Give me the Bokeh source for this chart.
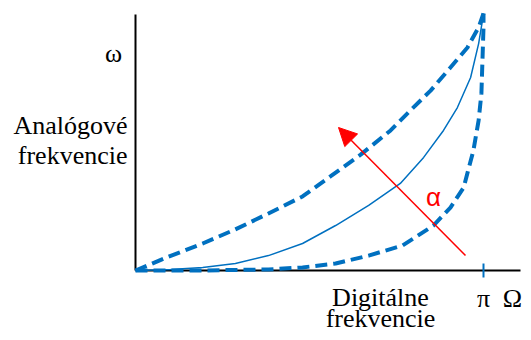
import numpy as np
from bokeh.plotting import figure
from bokeh.models import Range1d, Arrow, NormalHead
from bokeh.core.properties import value
from bokeh.embed import file_html
from bokeh.resources import INLINE

# ---- data (digital frequency as fraction of pi, analog frequency normalised) ----
upper_x = [0, 0.095, 0.193, 0.287, 0.382, 0.480, 0.560, 0.647, 0.733, 0.790, 0.848, 0.905, 0.954, 0.986, 1.0]
upper_y = [0, 0.054, 0.105, 0.160, 0.222, 0.288, 0.366, 0.451, 0.545, 0.623, 0.700, 0.790, 0.868, 0.946, 1.0]

mid_x = [0, 0.101, 0.193, 0.287, 0.382, 0.480, 0.575, 0.670, 0.761, 0.828, 0.885, 0.925, 0.963, 0.986, 0.997, 1.0]
mid_y = [0, 0.004, 0.012, 0.027, 0.058, 0.105, 0.175, 0.253, 0.339, 0.440, 0.545, 0.634, 0.751, 0.883, 0.973, 1.0]

lower_x = [0, 0.187, 0.382, 0.480, 0.575, 0.670, 0.767, 0.856, 0.905, 0.943, 0.971, 0.986, 0.994, 0.997, 1.0, 1.0]
lower_y = [0, 0.0, 0.004, 0.012, 0.027, 0.058, 0.097, 0.175, 0.245, 0.323, 0.467, 0.584, 0.689, 0.817, 0.946, 1.0]

x_tick_label = "π"

# ---- layout helpers (reference pixel -> data) ----
W, H = 523, 332
def sx(px):
    return (px - 135) / 348 * np.pi
def sy(py):
    return (270 - py) / 257

p = figure(width=W, height=H, output_backend="svg", toolbar_location=None,
           x_range=Range1d(sx(0), sx(W)), y_range=Range1d(sy(H), sy(0)),
           x_axis_location=None, y_axis_location=None, min_border=0)
p.grid.visible = False
p.outline_line_color = None
p.background_fill_color = "white"
p.border_fill_color = "white"

blue = "#0070C0"
X = lambda arr: [v * np.pi for v in arr]

# axes
p.line([sx(135), sx(135)], [sy(270), sy(14)], line_color="black", line_width=2)
p.line([sx(135), sx(520)], [sy(270), sy(270)], line_color="black", line_width=2)
# pi tick
p.line([np.pi, np.pi], [sy(263), sy(277)], line_color=blue, line_width=2)

# curves
p.line(X(upper_x), upper_y, line_color=blue, line_width=4, line_dash="12 6")
p.line(X(mid_x), mid_y, line_color=blue, line_width=1.5)
p.line(X(lower_x), lower_y, line_color=blue, line_width=4, line_dash="12 6")

# red arrow
p.add_layout(Arrow(end=NormalHead(size=18, fill_color="red", line_color="red"),
                   x_start=sx(465), y_start=sy(255), x_end=sx(338), y_end=sy(127),
                   line_color="red", line_width=1.5))

serif = value("Liberation Serif")
p.text(x=[sx(113)], y=[sy(53)], text=["ω"], text_font=serif, text_font_size="26px",
       text_align="center", text_baseline="alphabetic", text_color="black")
p.text(x=[sx(127), sx(127)], y=[sy(125), sy(155)], text=["Analógové", "frekvencie"],
       text_font=serif, text_font_size="26px", text_align="right",
       text_baseline="alphabetic", text_color="black")
p.text(x=[sx(380), sx(380)], y=[sy(297), sy(318)], text=["Digitálne", "frekvencie"],
       text_font=serif, text_font_size="26px", text_align="center",
       text_baseline="alphabetic", text_color="black")
p.text(x=[np.pi], y=[sy(298)], text=[x_tick_label], text_font=serif, text_font_size="26px",
       text_align="center", text_baseline="alphabetic", text_color="black")
p.text(x=[sx(512)], y=[sy(298)], text=["Ω"], text_font=serif, text_font_size="26px",
       text_align="center", text_baseline="alphabetic", text_color="black")
p.text(x=[sx(433)], y=[sy(196)], text=["α"], text_font=value("Liberation Sans"),
       text_font_size="26px", text_align="center", text_baseline="alphabetic",
       text_color="red")

open("out.html", "w").write(file_html(p, INLINE))
